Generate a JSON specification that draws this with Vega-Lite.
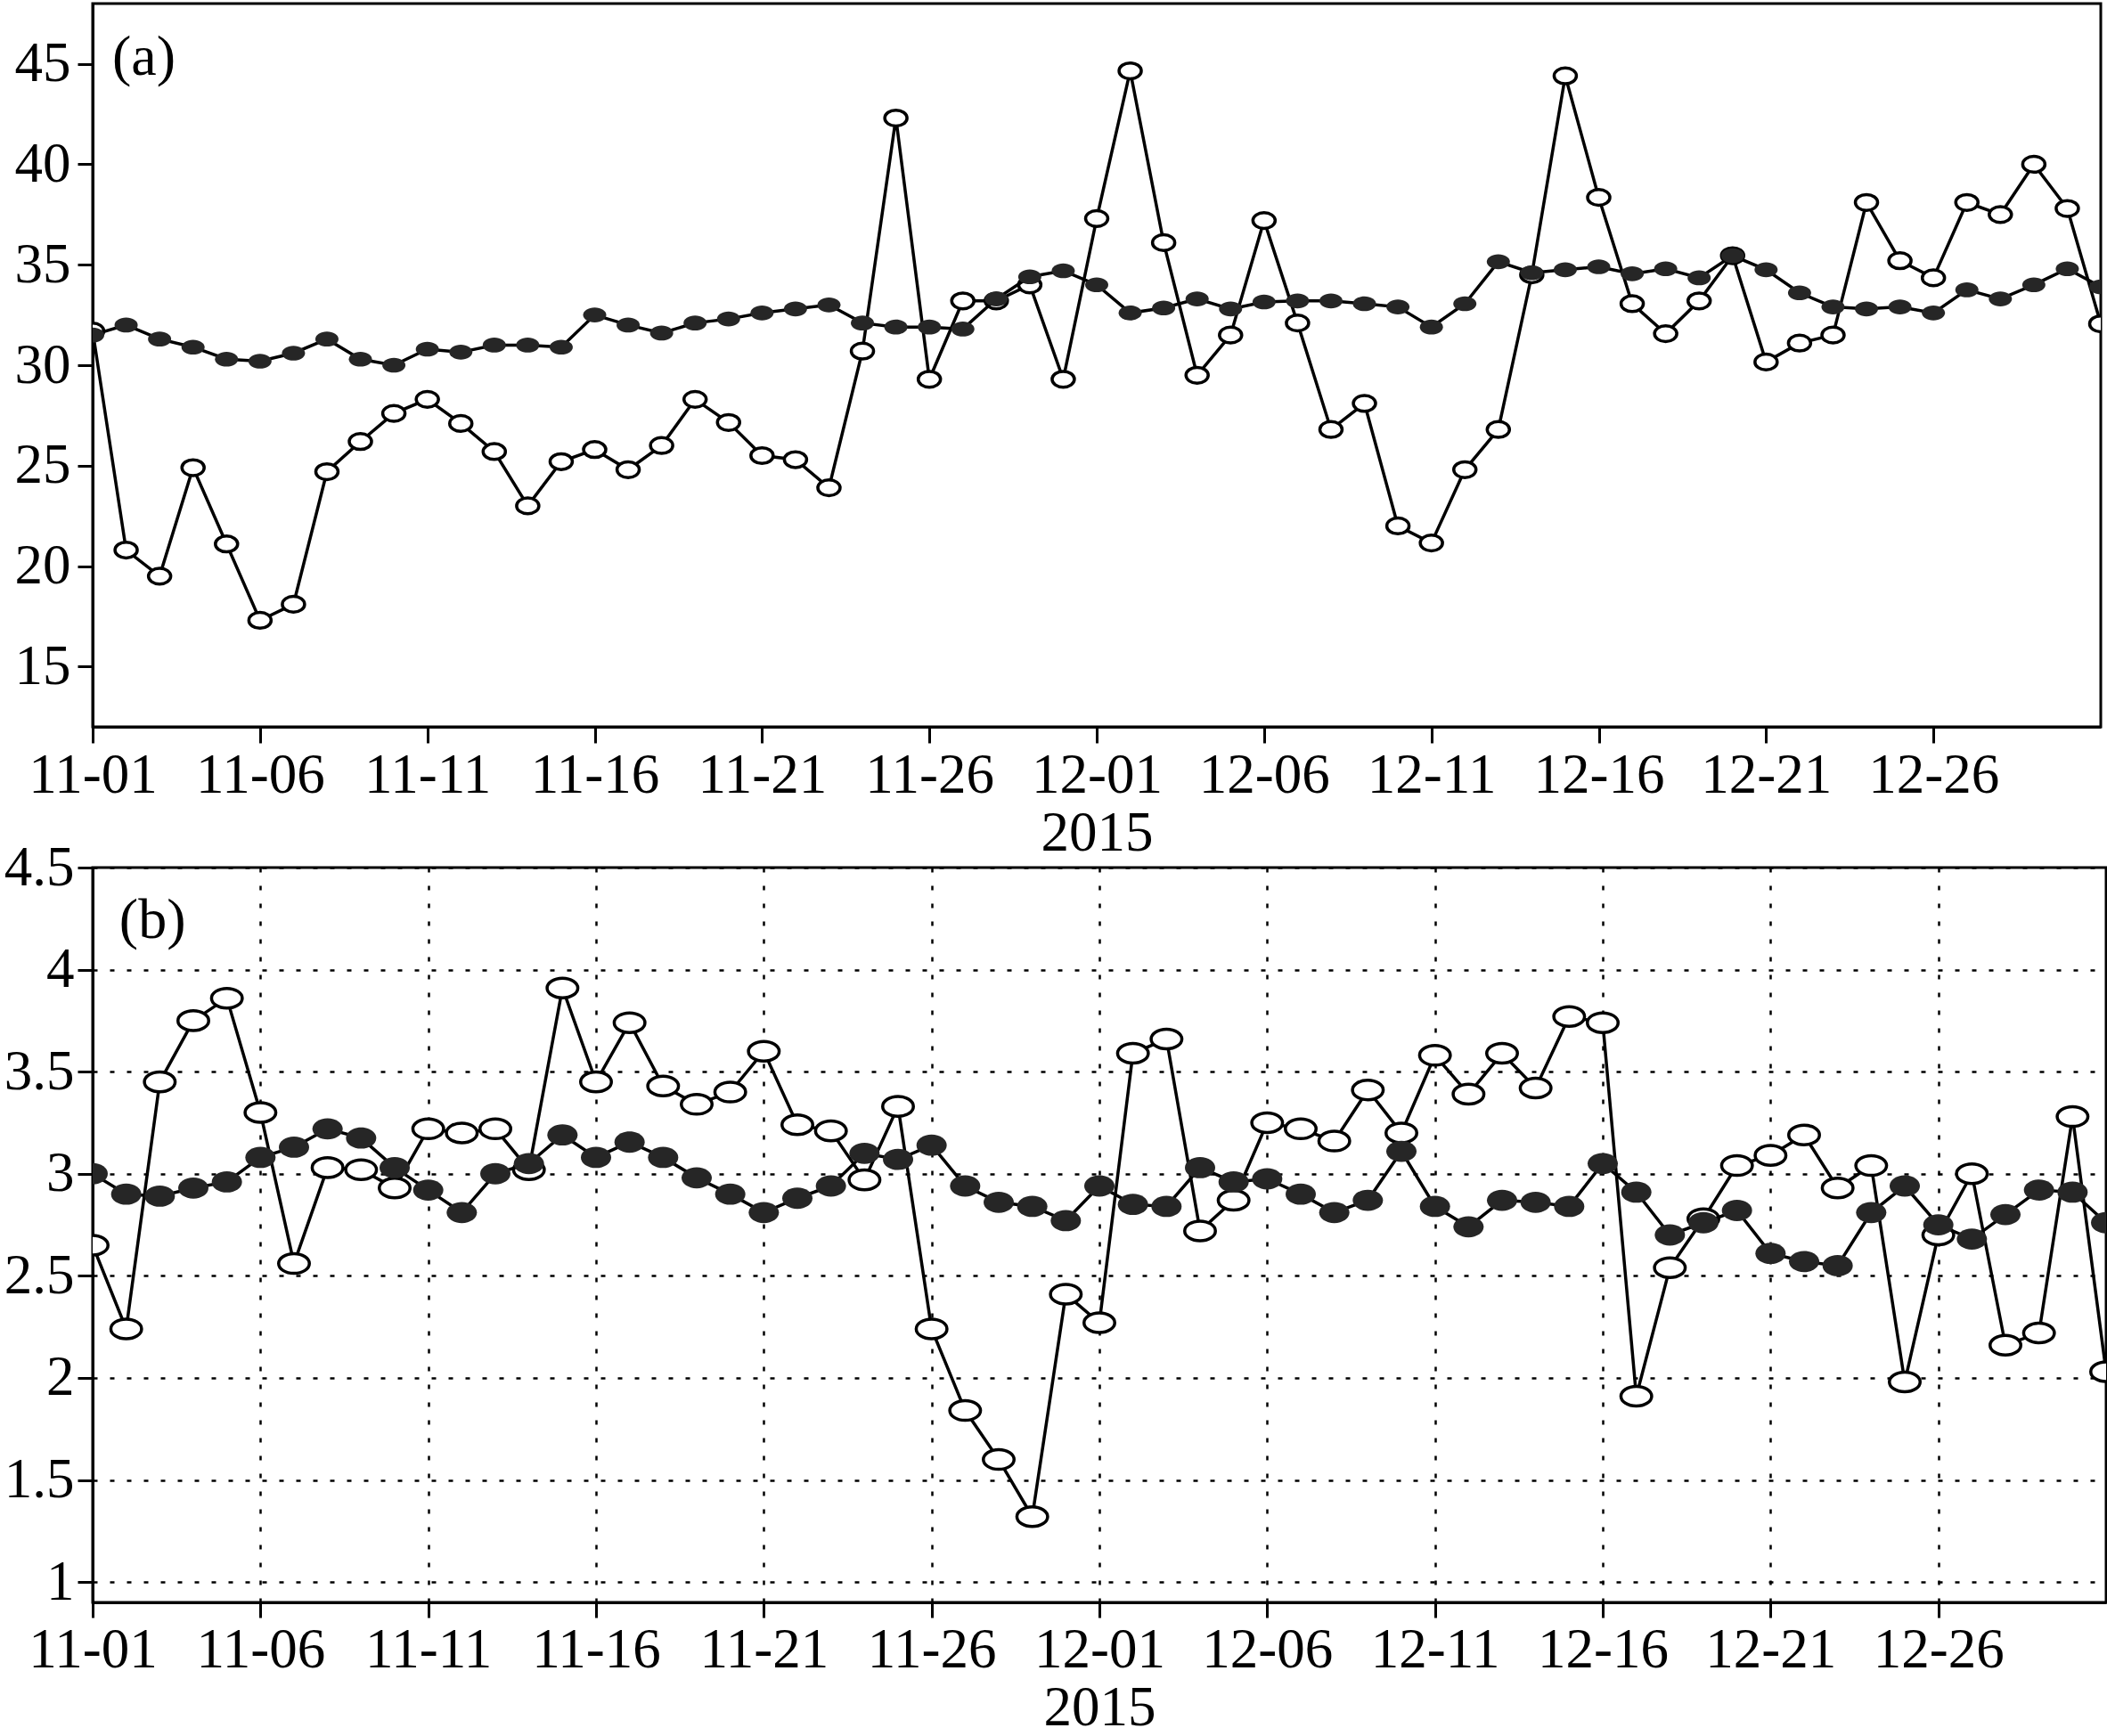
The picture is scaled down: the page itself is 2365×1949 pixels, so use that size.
{
  "$schema": "https://vega.github.io/schema/vega-lite/v6.json",
  "background": "white",
  "padding": {"left": 2, "top": 2, "right": 5, "bottom": 5},
  "bounds": "flush",
  "spacing": 158,
  "datasets": {
    "a_open": [
      {"date":"2015-11-01","v":31.7},{"date":"2015-11-02","v":20.8},{"date":"2015-11-03","v":19.5},{"date":"2015-11-04","v":24.9},{"date":"2015-11-05","v":21.1},{"date":"2015-11-06","v":17.3},{"date":"2015-11-07","v":18.1},{"date":"2015-11-08","v":24.7},{"date":"2015-11-09","v":26.2},{"date":"2015-11-10","v":27.6},
      {"date":"2015-11-11","v":28.3},{"date":"2015-11-12","v":27.1},{"date":"2015-11-13","v":25.7},{"date":"2015-11-14","v":23.0},{"date":"2015-11-15","v":25.2},{"date":"2015-11-16","v":25.8},{"date":"2015-11-17","v":24.8},{"date":"2015-11-18","v":26.0},{"date":"2015-11-19","v":28.3},{"date":"2015-11-20","v":27.15},
      {"date":"2015-11-21","v":25.5},{"date":"2015-11-22","v":25.3},{"date":"2015-11-23","v":23.9},{"date":"2015-11-24","v":30.7},{"date":"2015-11-25","v":42.3},{"date":"2015-11-26","v":29.3},{"date":"2015-11-27","v":33.2},{"date":"2015-11-28","v":33.2},{"date":"2015-11-29","v":34.0},{"date":"2015-11-30","v":29.3},
      {"date":"2015-12-01","v":37.3},{"date":"2015-12-02","v":44.65},{"date":"2015-12-03","v":36.1},{"date":"2015-12-04","v":29.5},{"date":"2015-12-05","v":31.5},{"date":"2015-12-06","v":37.2},{"date":"2015-12-07","v":32.1},{"date":"2015-12-08","v":26.8},{"date":"2015-12-09","v":28.1},{"date":"2015-12-10","v":22.0},
      {"date":"2015-12-11","v":21.15},{"date":"2015-12-12","v":24.8},{"date":"2015-12-13","v":26.8},{"date":"2015-12-14","v":34.5},{"date":"2015-12-15","v":44.4},{"date":"2015-12-16","v":38.35},{"date":"2015-12-17","v":33.06},{"date":"2015-12-18","v":31.57},{"date":"2015-12-19","v":33.2},{"date":"2015-12-20","v":35.45},
      {"date":"2015-12-21","v":30.16},{"date":"2015-12-22","v":31.1},{"date":"2015-12-23","v":31.5},{"date":"2015-12-24","v":38.1},{"date":"2015-12-25","v":35.2},{"date":"2015-12-26","v":34.35},{"date":"2015-12-27","v":38.1},{"date":"2015-12-28","v":37.5},{"date":"2015-12-29","v":40.0},{"date":"2015-12-30","v":37.8},
      {"date":"2015-12-31","v":32.06}
    ],
    "a_filled": [
      {"date":"2015-11-01","v":31.5},{"date":"2015-11-02","v":32.0},{"date":"2015-11-03","v":31.3},{"date":"2015-11-04","v":30.9},{"date":"2015-11-05","v":30.3},{"date":"2015-11-06","v":30.2},{"date":"2015-11-07","v":30.6},{"date":"2015-11-08","v":31.3},{"date":"2015-11-09","v":30.3},{"date":"2015-11-10","v":30.0},
      {"date":"2015-11-11","v":30.8},{"date":"2015-11-12","v":30.65},{"date":"2015-11-13","v":31.0},{"date":"2015-11-14","v":31.0},{"date":"2015-11-15","v":30.9},{"date":"2015-11-16","v":32.5},{"date":"2015-11-17","v":32.0},{"date":"2015-11-18","v":31.6},{"date":"2015-11-19","v":32.1},{"date":"2015-11-20","v":32.3},
      {"date":"2015-11-21","v":32.6},{"date":"2015-11-22","v":32.8},{"date":"2015-11-23","v":33.0},{"date":"2015-11-24","v":32.1},{"date":"2015-11-25","v":31.9},{"date":"2015-11-26","v":31.9},{"date":"2015-11-27","v":31.8},{"date":"2015-11-28","v":33.3},{"date":"2015-11-29","v":34.4},{"date":"2015-11-30","v":34.7},
      {"date":"2015-12-01","v":34.0},{"date":"2015-12-02","v":32.6},{"date":"2015-12-03","v":32.85},{"date":"2015-12-04","v":33.3},{"date":"2015-12-05","v":32.8},{"date":"2015-12-06","v":33.15},{"date":"2015-12-07","v":33.2},{"date":"2015-12-08","v":33.2},{"date":"2015-12-09","v":33.06},{"date":"2015-12-10","v":32.9},
      {"date":"2015-12-11","v":31.9},{"date":"2015-12-12","v":33.06},{"date":"2015-12-13","v":35.15},{"date":"2015-12-14","v":34.6},{"date":"2015-12-15","v":34.75},{"date":"2015-12-16","v":34.9},{"date":"2015-12-17","v":34.55},{"date":"2015-12-18","v":34.8},{"date":"2015-12-19","v":34.35},{"date":"2015-12-20","v":35.45},
      {"date":"2015-12-21","v":34.75},{"date":"2015-12-22","v":33.6},{"date":"2015-12-23","v":32.9},{"date":"2015-12-24","v":32.8},{"date":"2015-12-25","v":32.9},{"date":"2015-12-26","v":32.6},{"date":"2015-12-27","v":33.75},{"date":"2015-12-28","v":33.3},{"date":"2015-12-29","v":34.0},{"date":"2015-12-30","v":34.8},
      {"date":"2015-12-31","v":33.9}
    ],
    "b_open": [
      {"date":"2015-11-01","v":2.65},{"date":"2015-11-02","v":2.24},{"date":"2015-11-03","v":3.45},{"date":"2015-11-04","v":3.75},{"date":"2015-11-05","v":3.86},{"date":"2015-11-06","v":3.30},{"date":"2015-11-07","v":2.56},{"date":"2015-11-08","v":3.03},{"date":"2015-11-09","v":3.02},{"date":"2015-11-10","v":2.93},
      {"date":"2015-11-11","v":3.22},{"date":"2015-11-12","v":3.20},{"date":"2015-11-13","v":3.22},{"date":"2015-11-14","v":3.02},{"date":"2015-11-15","v":3.91},{"date":"2015-11-16","v":3.45},{"date":"2015-11-17","v":3.74},{"date":"2015-11-18","v":3.43},{"date":"2015-11-19","v":3.34},{"date":"2015-11-20","v":3.40},
      {"date":"2015-11-21","v":3.60},{"date":"2015-11-22","v":3.24},{"date":"2015-11-23","v":3.21},{"date":"2015-11-24","v":2.97},{"date":"2015-11-25","v":3.33},{"date":"2015-11-26","v":2.24},{"date":"2015-11-27","v":1.84},{"date":"2015-11-28","v":1.60},{"date":"2015-11-29","v":1.32},{"date":"2015-11-30","v":2.41},
      {"date":"2015-12-01","v":2.27},{"date":"2015-12-02","v":3.59},{"date":"2015-12-03","v":3.66},{"date":"2015-12-04","v":2.72},{"date":"2015-12-05","v":2.87},{"date":"2015-12-06","v":3.25},{"date":"2015-12-07","v":3.22},{"date":"2015-12-08","v":3.16},{"date":"2015-12-09","v":3.41},{"date":"2015-12-10","v":3.20},
      {"date":"2015-12-11","v":3.58},{"date":"2015-12-12","v":3.39},{"date":"2015-12-13","v":3.59},{"date":"2015-12-14","v":3.42},{"date":"2015-12-15","v":3.77},{"date":"2015-12-16","v":3.74},{"date":"2015-12-17","v":1.91},{"date":"2015-12-18","v":2.54},{"date":"2015-12-19","v":2.78},{"date":"2015-12-20","v":3.04},
      {"date":"2015-12-21","v":3.09},{"date":"2015-12-22","v":3.19},{"date":"2015-12-23","v":2.93},{"date":"2015-12-24","v":3.04},{"date":"2015-12-25","v":1.98},{"date":"2015-12-26","v":2.70},{"date":"2015-12-27","v":3.00},{"date":"2015-12-28","v":2.16},{"date":"2015-12-29","v":2.22},{"date":"2015-12-30","v":3.28},
      {"date":"2015-12-31","v":2.03}
    ],
    "b_filled": [
      {"date":"2015-11-01","v":3.00},{"date":"2015-11-02","v":2.90},{"date":"2015-11-03","v":2.89},{"date":"2015-11-04","v":2.93},{"date":"2015-11-05","v":2.96},{"date":"2015-11-06","v":3.08},{"date":"2015-11-07","v":3.13},{"date":"2015-11-08","v":3.22},{"date":"2015-11-09","v":3.175},{"date":"2015-11-10","v":3.03},
      {"date":"2015-11-11","v":2.92},{"date":"2015-11-12","v":2.81},{"date":"2015-11-13","v":3.00},{"date":"2015-11-14","v":3.05},{"date":"2015-11-15","v":3.19},{"date":"2015-11-16","v":3.08},{"date":"2015-11-17","v":3.155},{"date":"2015-11-18","v":3.08},{"date":"2015-11-19","v":2.98},{"date":"2015-11-20","v":2.90},
      {"date":"2015-11-21","v":2.81},{"date":"2015-11-22","v":2.88},{"date":"2015-11-23","v":2.94},{"date":"2015-11-24","v":3.10},{"date":"2015-11-25","v":3.07},{"date":"2015-11-26","v":3.14},{"date":"2015-11-27","v":2.94},{"date":"2015-11-28","v":2.86},{"date":"2015-11-29","v":2.84},{"date":"2015-11-30","v":2.77},
      {"date":"2015-12-01","v":2.94},{"date":"2015-12-02","v":2.85},{"date":"2015-12-03","v":2.84},{"date":"2015-12-04","v":3.03},{"date":"2015-12-05","v":2.96},{"date":"2015-12-06","v":2.975},{"date":"2015-12-07","v":2.90},{"date":"2015-12-08","v":2.81},{"date":"2015-12-09","v":2.87},{"date":"2015-12-10","v":3.11},
      {"date":"2015-12-11","v":2.84},{"date":"2015-12-12","v":2.74},{"date":"2015-12-13","v":2.87},{"date":"2015-12-14","v":2.86},{"date":"2015-12-15","v":2.84},{"date":"2015-12-16","v":3.05},{"date":"2015-12-17","v":2.91},{"date":"2015-12-18","v":2.70},{"date":"2015-12-19","v":2.76},{"date":"2015-12-20","v":2.82},
      {"date":"2015-12-21","v":2.61},{"date":"2015-12-22","v":2.57},{"date":"2015-12-23","v":2.55},{"date":"2015-12-24","v":2.81},{"date":"2015-12-25","v":2.94},{"date":"2015-12-26","v":2.75},{"date":"2015-12-27","v":2.68},{"date":"2015-12-28","v":2.80},{"date":"2015-12-29","v":2.92},{"date":"2015-12-30","v":2.91},
      {"date":"2015-12-31","v":2.76}
    ]
  },
  "vconcat": [
    {
      "width": 2254,
      "height": 812,
      "layer": [
        {"data": {"name": "a_open"},
          "mark": {"type": "line", "color": "black", "strokeWidth": 3.5, "clip": true,
            "point": {"shape": "M-1,0A1,0.71 0 1,1 1,0A1,0.71 0 1,1 -1,0Z", "size": 625, "filled": true, "fill": "white", "stroke": "black", "strokeWidth": 3.5, "opacity": 1}},
          "encoding": {
            "x": {"field": "date", "type": "temporal",
              "scale": {"type": "utc", "domain": [{"year":2015,"month":11,"date":1,"utc":true},{"year":2015,"month":12,"date":31,"utc":true}]},
              "axis": {"values": [{"year":2015,"month":11,"date":1,"utc":true},{"year":2015,"month":11,"date":6,"utc":true},{"year":2015,"month":11,"date":11,"utc":true},{"year":2015,"month":11,"date":16,"utc":true},{"year":2015,"month":11,"date":21,"utc":true},{"year":2015,"month":11,"date":26,"utc":true},{"year":2015,"month":12,"date":1,"utc":true},{"year":2015,"month":12,"date":6,"utc":true},{"year":2015,"month":12,"date":11,"utc":true},{"year":2015,"month":12,"date":16,"utc":true},{"year":2015,"month":12,"date":21,"utc":true},{"year":2015,"month":12,"date":26,"utc":true}],
                "format": "%m-%d", "title": "2015", "titlePadding": 2, "tickSize": 18, "labelPadding": 5}},
            "y": {"field": "v", "type": "quantitative",
              "scale": {"domain": [12, 48], "nice": false, "zero": false},
              "axis": {"values": [15, 20, 25, 30, 35, 40, 45], "title": null, "tickSize": 17, "labelPadding": 8}}
          }},
        {"data": {"name": "a_filled"},
          "mark": {"type": "line", "color": "black", "strokeWidth": 3.5, "clip": true,
            "point": {"shape": "M-1,0A1,0.64 0 1,1 1,0A1,0.64 0 1,1 -1,0Z", "size": 676, "filled": true, "fill": "#262626", "strokeWidth": 0, "opacity": 1}},
          "encoding": {
            "x": {"field": "date", "type": "temporal", "title": "2015"},
            "y": {"field": "v", "type": "quantitative", "title": null}
          }},
        {"data": {"values": [{}]},
          "mark": {"type": "text", "text": "(a)", "align": "left", "baseline": "middle", "font": "Liberation Serif", "fontSize": 64, "color": "black"},
          "encoding": {
            "x": {"datum": {"year":2015,"month":11,"date":1,"hours":14,"utc":true}, "type": "temporal", "title": "2015"},
            "y": {"datum": 45.3, "type": "quantitative", "title": null}
          }}
      ]
    },
    {
      "width": 2260,
      "height": 825,
      "layer": [
        {"data": {"name": "b_open"},
          "mark": {"type": "line", "color": "black", "strokeWidth": 3.5, "clip": true,
            "point": {"shape": "M-1,0A1,0.64 0 1,1 1,0A1,0.64 0 1,1 -1,0Z", "size": 1190, "filled": true, "fill": "white", "stroke": "black", "strokeWidth": 3.5, "opacity": 1}},
          "encoding": {
            "x": {"field": "date", "type": "temporal",
              "scale": {"type": "utc", "domain": [{"year":2015,"month":11,"date":1,"utc":true},{"year":2015,"month":12,"date":31,"utc":true}]},
              "axis": {"values": [{"year":2015,"month":11,"date":1,"utc":true},{"year":2015,"month":11,"date":6,"utc":true},{"year":2015,"month":11,"date":11,"utc":true},{"year":2015,"month":11,"date":16,"utc":true},{"year":2015,"month":11,"date":21,"utc":true},{"year":2015,"month":11,"date":26,"utc":true},{"year":2015,"month":12,"date":1,"utc":true},{"year":2015,"month":12,"date":6,"utc":true},{"year":2015,"month":12,"date":11,"utc":true},{"year":2015,"month":12,"date":16,"utc":true},{"year":2015,"month":12,"date":21,"utc":true},{"year":2015,"month":12,"date":26,"utc":true}],
                "format": "%m-%d", "title": "2015", "titlePadding": 2, "tickSize": 17, "labelPadding": 5,
                "grid": true, "gridColor": "black", "gridWidth": 2.5, "gridDash": [5, 15]}},
            "y": {"field": "v", "type": "quantitative",
              "scale": {"domain": [0.9, 4.5], "nice": false, "zero": false},
              "axis": {"values": [1, 1.5, 2, 2.5, 3, 3.5, 4, 4.5], "format": "~g", "title": null, "tickSize": 17, "labelPadding": 4,
                "grid": true, "gridColor": "black", "gridWidth": 2.5, "gridDash": [5, 14]}}
          }},
        {"data": {"name": "b_filled"},
          "mark": {"type": "line", "color": "black", "strokeWidth": 3.5, "clip": true,
            "point": {"shape": "M-1,0A1,0.7 0 1,1 1,0A1,0.7 0 1,1 -1,0Z", "size": 1156, "filled": true, "fill": "#262626", "strokeWidth": 0, "opacity": 1}},
          "encoding": {
            "x": {"field": "date", "type": "temporal", "title": "2015"},
            "y": {"field": "v", "type": "quantitative", "title": null}
          }},
        {"data": {"values": [{}]},
          "mark": {"type": "text", "text": "(b)", "align": "left", "baseline": "middle", "font": "Liberation Serif", "fontSize": 64, "color": "black"},
          "encoding": {
            "x": {"datum": {"year":2015,"month":11,"date":1,"hours":19,"utc":true}, "type": "temporal", "title": "2015"},
            "y": {"datum": 4.24, "type": "quantitative", "title": null}
          }}
      ]
    }
  ],
  "config": {
    "font": "Liberation Serif",
    "view": {"stroke": "black", "strokeWidth": 3},
    "axis": {
      "labelFont": "Liberation Serif", "labelFontSize": 63, "labelColor": "black",
      "titleFont": "Liberation Serif", "titleFontSize": 63, "titleFontWeight": "normal", "titleColor": "black",
      "domainColor": "black", "domainWidth": 3, "tickColor": "black", "tickWidth": 3,
      "grid": false, "labelOverlap": false, "labelFlush": false
    }
  }
}
